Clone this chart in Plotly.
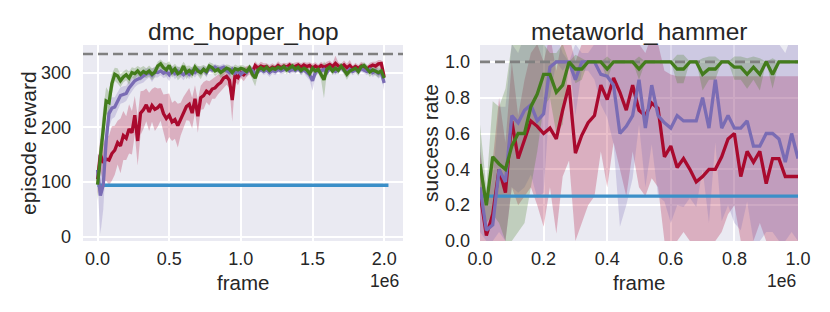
import plotly.graph_objects as go

# ---------------- data: dmc_hopper_hop ----------------
frames_hopper = [i * 20000 for i in range(101)]

hop_green = [95, 150, 205, 248, 245, 280, 297, 294, 285, 292, 296,
             290, 300, 298, 303, 297, 302, 299, 303, 297, 301,
             312, 316, 309, 305, 313, 301, 307, 298, 301, 312,
             300, 304, 299, 310, 303, 300, 306, 302, 312, 309,
             303, 306, 300, 304, 308, 306, 300, 307, 305, 308,
             306, 302, 309, 297, 290, 305, 309, 305, 310, 304,
             308, 306, 310, 307, 311, 305, 309, 312, 306, 310,
             304, 308, 305, 298, 308, 303, 306, 296, 287, 306,
             310, 303, 308, 304, 312, 305, 297, 303, 306, 308,
             302, 311, 313, 307, 301, 305, 303, 300, 303, 290]
hop_green_sd = [30, 35, 30, 25, 20, 18, 12, 14, 12, 10, 10,
                12, 10, 10, 9, 12, 10, 9, 10, 11, 9,
                8, 8, 10, 12, 8, 10, 9, 12, 10, 8,
                12, 9, 10, 8, 9, 12, 8, 9, 7, 8,
                9, 8, 10, 8, 7, 8, 10, 8, 7, 6,
                7, 8, 6, 10, 15, 8, 6, 7, 6, 7,
                6, 7, 6, 5, 6, 8, 6, 5, 7, 6,
                8, 6, 7, 9, 7, 8, 7, 10, 34, 7,
                6, 8, 6, 7, 6, 8, 10, 7, 6, 7,
                8, 6, 6, 7, 9, 7, 8, 9, 7, 10]

hop_purple = [122, 75, 95, 175, 225, 235, 237, 248, 258, 260, 262,
              272, 278, 285, 288, 290, 294, 297, 300, 295, 301,
              300, 303, 299, 302, 296, 304, 298, 303, 300, 296,
              302, 297, 303, 300, 305, 301, 306, 300, 308, 305,
              310, 306, 308, 310, 304, 300, 306, 299, 303, 297,
              302, 300, 306, 304, 298, 303, 306, 302, 305, 300,
              304, 302, 306, 303, 305, 308, 303, 306, 304, 307,
              302, 305, 300, 296, 285, 300, 305, 303, 306, 300,
              308, 305, 302, 306, 310, 304, 300, 306, 302, 305,
              303, 307, 305, 302, 306, 300, 303, 298, 300, 281]
hop_purple_sd = [30, 70, 45, 30, 25, 20, 18, 16, 15, 15, 14,
                 14, 12, 12, 10, 10, 12, 10, 9, 12, 10,
                 9, 8, 9, 10, 12, 8, 10, 9, 8, 10,
                 8, 9, 8, 9, 7, 8, 7, 9, 6, 7,
                 6, 7, 6, 6, 8, 10, 7, 9, 8, 8,
                 7, 8, 6, 7, 8, 6, 7, 6, 7, 8,
                 6, 7, 6, 6, 7, 5, 6, 7, 6, 5,
                 7, 6, 8, 10, 18, 8, 6, 7, 6, 8,
                 6, 7, 6, 7, 5, 7, 9, 6, 7, 6,
                 7, 6, 6, 7, 6, 8, 7, 9, 8, 14]

hop_red = [105, 150, 135, 142, 140, 152, 158, 172, 166, 185, 180,
           197, 190, 222, 175, 226, 232, 241, 228, 240, 233,
           236, 242, 225, 216, 222, 210, 214, 203, 215, 228,
           238, 242, 226, 252, 220, 254, 258, 266, 262, 270,
           272, 278, 282, 290, 293, 286, 250, 296, 291, 300,
           296, 302, 305, 300, 313, 308, 312, 310, 311, 306,
           310, 308, 313, 309, 312, 310, 314, 309, 312, 314,
           310, 314, 311, 313, 308, 312, 309, 313, 310, 312,
           315, 311, 317, 312, 310, 314, 309, 313, 307, 311,
           308, 312, 309, 306, 311, 314, 312, 316, 317, 292]
hop_red_sd = [30, 30, 35, 40, 45, 50, 45, 40, 50, 45, 40,
              45, 40, 35, 45, 40, 35, 30, 35, 30, 40,
              35, 30, 35, 45, 40, 35, 35, 40, 30, 28,
              25, 30, 28, 25, 30, 22, 25, 20, 22, 18,
              20, 18, 15, 18, 15, 14, 40, 12, 14, 10,
              12, 10, 8, 10, 8, 7, 8, 7, 6, 8,
              7, 6, 8, 7, 6, 7, 6, 8, 7, 6,
              7, 6, 7, 6, 8, 7, 6, 7, 6, 8,
              7, 6, 14, 7, 6, 8, 7, 10, 6, 7,
              6, 8, 7, 6, 7, 6, 8, 7, 6, 10]

hop_blue_x = [0, 2030000]
hop_blue_y = [94, 94]
hop_optimal = 334
hop_xlim = [-101500, 2131500]
hop_ylim = [-8, 350.5]

hop_xticks = [0, 500000, 1000000, 1500000, 2000000]
hop_xtext = ["0.0", "0.5", "1.0", "1.5", "2.0"]
hop_yticks = [0, 100, 200, 300]
hop_ytext = ["0", "100", "200", "300"]

# ---------------- data: metaworld_hammer ----------------
frames_hammer = [i * 20000 for i in range(51)]

ham_green = [0.43, 0.20, 0.47, 0.43, 0.40, 0.53, 0.60, 0.60, 0.75, 0.82, 0.93,
             0.93, 0.83, 0.87, 1.0, 0.96, 0.96, 1.0, 1.0, 1.0, 0.96,
             1.0, 1.0, 1.0, 1.0, 0.96, 1.0, 1.0, 1.0, 1.0, 1.0,
             0.96, 0.96, 1.0, 1.0, 0.93, 0.96, 0.96, 1.0, 1.0, 0.97,
             0.97, 0.93, 0.97, 0.93, 1.0, 0.93, 1.0, 1.0, 1.0, 1.0]
ham_green_lo = [0.2, 0.1, 0.15, 0.1, 0.0, 0.0, 0.05, 0.1, 0.3, 0.5, 0.75,
                0.8, 0.6, 0.65, 1.0, 0.88, 0.9, 1.0, 1.0, 1.0, 0.9,
                1.0, 1.0, 1.0, 1.0, 0.9, 1.0, 1.0, 1.0, 1.0, 1.0,
                0.88, 0.88, 1.0, 1.0, 0.84, 0.9, 0.9, 1.0, 1.0, 0.9,
                0.9, 0.85, 0.9, 0.84, 1.0, 0.85, 1.0, 1.0, 1.0, 1.0]
ham_green_hi = [0.65, 0.3, 0.78, 0.75, 0.85, 1.1, 1.12, 1.1, 1.15, 1.12, 1.1,
                1.05, 1.05, 1.1, 1.0, 1.04, 1.02, 1.0, 1.0, 1.0, 1.03,
                1.0, 1.0, 1.0, 1.0, 1.03, 1.0, 1.0, 1.0, 1.0, 1.0,
                1.04, 1.04, 1.0, 1.0, 1.02, 1.03, 1.03, 1.0, 1.0, 1.03,
                1.03, 1.02, 1.03, 1.02, 1.0, 1.02, 1.0, 1.0, 1.0, 1.0]

ham_purple = [0.30, 0.06, 0.09, 0.40, 0.33, 0.70, 0.66, 0.73, 0.76, 0.67, 0.71,
              0.97, 1.0, 1.0, 1.0, 0.90, 1.0, 1.0, 1.0, 0.93, 0.92,
              0.87, 0.60, 0.64, 0.70, 0.90, 0.63, 0.87, 0.70, 0.66, 0.63,
              0.70, 0.67, 0.67, 0.67, 0.80, 0.63, 0.90, 0.63, 0.70, 0.63,
              0.63, 0.67, 0.53, 0.53, 0.60, 0.60, 0.57, 0.44, 0.60, 0.46]
ham_purple_lo = [0.05, 0.0, 0.0, 0.05, 0.0, 0.3, 0.27, 0.3, 0.37, 0.24, 0.27,
                 0.8, 1.0, 0.95, 1.0, 0.7, 0.95, 0.95, 0.9, 0.76, 0.69,
                 0.54, 0.08, 0.2, 0.35, 0.65, 0.3, 0.54, 0.25, 0.22, 0.1,
                 0.2, 0.19, 0.24, 0.19, 0.4, 0.1, 0.55, 0.11, 0.2, 0.1,
                 0.06, 0.22, 0.0, 0.0, 0.05, 0.05, 0.0, 0.0, 0.05, 0.0]
ham_purple_hi = [0.55, 0.2, 0.35, 0.75, 0.75, 1.1, 1.05, 1.15, 1.15, 1.1, 1.15,
                 1.15, 1.15, 1.05, 1.0, 1.1, 1.05, 1.05, 1.1, 1.1, 1.15,
                 1.2, 1.1, 1.15, 1.15, 1.2, 1.1, 1.2, 1.15, 1.1, 1.15,
                 1.2, 1.15, 1.1, 1.15, 1.2, 1.1, 1.25, 1.15, 1.1, 1.15,
                 1.2, 1.1, 1.15, 1.1, 1.2, 1.15, 1.1, 1.05, 1.15, 1.1]

ham_red = [0.27, 0.03, 0.15, 0.40, 0.27, 0.67, 0.46, 0.57, 0.67, 0.64, 0.60,
           0.63, 0.57, 0.73, 0.87, 0.49, 0.59, 0.66, 0.70, 0.87, 0.79,
           0.91, 0.83, 0.73, 0.87, 0.73, 0.70, 0.77, 0.74, 0.47, 0.53,
           0.41, 0.46, 0.40, 0.33, 0.36, 0.40, 0.40, 0.47, 0.57, 0.60,
           0.36, 0.50, 0.44, 0.50, 0.32, 0.46, 0.46, 0.36, 0.36, 0.36]
ham_red_lo = [0.0, 0.0, 0.0, 0.0, 0.0, 0.3, 0.2, 0.25, 0.3, 0.2, 0.08,
              0.3, 0.04, 0.36, 0.45, 0.0, 0.1, 0.2, 0.25, 0.5, 0.3,
              0.55, 0.4, 0.25, 0.5, 0.3, 0.25, 0.35, 0.3, 0.0, 0.0,
              0.0, 0.05, 0.0, 0.0, 0.0, 0.0, 0.0, 0.05, 0.15, 0.2,
              0.0, 0.0, 0.0, 0.1, 0.0, 0.0, 0.0, 0.0, 0.0, 0.0]
ham_red_hi = [0.5, 0.25, 0.45, 0.8, 0.55, 1.0, 0.7, 0.9, 1.05, 1.1, 1.0,
              1.15, 0.95, 1.15, 1.15, 1.0, 1.1, 1.15, 1.1, 1.2, 1.15,
              1.2, 1.15, 1.1, 1.2, 1.1, 1.05, 1.15, 1.1, 0.95, 0.93,
              0.92, 0.92, 0.92, 0.92, 0.92, 0.92, 0.92, 0.92, 0.92, 0.92,
              0.92, 0.92, 0.92, 0.92, 0.92, 0.92, 0.92, 0.92, 0.92, 0.92]

ham_blue_x = [0, 1000000]
ham_blue_y = [0.25, 0.25]
ham_optimal = 1.0
ham_xlim = [0, 1000000]
ham_ylim = [0, 1.094]

ham_xticks = [0, 200000, 400000, 600000, 800000, 1000000]
ham_xtext = ["0.0", "0.2", "0.4", "0.6", "0.8", "1.0"]
ham_yticks = [0.0, 0.2, 0.4, 0.6, 0.8, 1.0]
ham_ytext = ["0.0", "0.2", "0.4", "0.6", "0.8", "1.0"]

# ---------------- style ----------------
# the page body has an 8px default margin; figure coords = screen coords - 8
OFF = 8
W, H = 830 - OFF, 312 - OFF
FONT = "Liberation Sans, Arial, sans-serif"
TXT = "#262626"
RED = "#a90a2e"
PURPLE = "#7a6cb4"
GREEN = "#437c1c"
BLUE = "#3b8fc8"
FILL = {RED: "rgba(176,17,60,0.27)", PURPLE: "rgba(122,108,180,0.26)", GREEN: "rgba(68,125,31,0.25)"}
LW = 3.3

fig = go.Figure()


def add_band(x, lo, hi, color, xa, ya):
    fig.add_trace(go.Scatter(x=x, y=lo, mode="lines", line=dict(width=0, color=color),
                             hoverinfo="skip", showlegend=False, xaxis=xa, yaxis=ya))
    fig.add_trace(go.Scatter(x=x, y=hi, mode="lines", line=dict(width=0, color=color),
                             fill="tonexty", fillcolor=FILL[color],
                             hoverinfo="skip", showlegend=False, xaxis=xa, yaxis=ya))


def add_line(x, y, color, xa, ya, width=LW, dash=None):
    fig.add_trace(go.Scatter(x=x, y=y, mode="lines", line=dict(width=width, color=color, dash=dash),
                             showlegend=False, xaxis=xa, yaxis=ya))


panels = [
    dict(xa="x", ya="y", frames=frames_hopper, xlim=hop_xlim, opt=hop_optimal,
         bx=hop_blue_x, by=hop_blue_y,
         series=[(hop_red, [m - s for m, s in zip(hop_red, hop_red_sd)],
                  [m + s for m, s in zip(hop_red, hop_red_sd)], RED),
                 (hop_purple, [m - s for m, s in zip(hop_purple, hop_purple_sd)],
                  [m + s for m, s in zip(hop_purple, hop_purple_sd)], PURPLE),
                 (hop_green, [m - s for m, s in zip(hop_green, hop_green_sd)],
                  [m + s for m, s in zip(hop_green, hop_green_sd)], GREEN)]),
    dict(xa="x2", ya="y2", frames=frames_hammer, xlim=ham_xlim, opt=ham_optimal,
         bx=ham_blue_x, by=ham_blue_y,
         series=[(ham_red, ham_red_lo, ham_red_hi, RED),
                 (ham_purple, ham_purple_lo, ham_purple_hi, PURPLE),
                 (ham_green, ham_green_lo, ham_green_hi, GREEN)]),
]

for p in panels:
    for mean, lo, hi, col in p["series"]:
        add_band(p["frames"], lo, hi, col, p["xa"], p["ya"])
    # optimal score: dashed line across the whole axis, under the curves
    add_line(p["xlim"], [p["opt"], p["opt"]], "#808080", p["xa"], p["ya"], width=2.6, dash="10px,5px")
    add_line(p["bx"], p["by"], BLUE, p["xa"], p["ya"])
    for mean, lo, hi, col in p["series"]:
        add_line(p["frames"], mean, col, p["xa"], p["ya"])


def px(x):
    return (x - OFF) / W


def py(y):
    return 1 - (y - OFF) / H


L0, L1 = px(83), px(403)
R0, R1 = px(480), px(798)
B, T = py(241), py(45)

axis_common = dict(showgrid=True, gridcolor="white", gridwidth=1.5, zeroline=False,
                   showline=False, ticks="", automargin=False,
                   tickfont=dict(size=18, color=TXT, family=FONT))

fig.update_layout(
    width=W, height=H,
    margin=dict(l=0, r=0, t=0, b=0, autoexpand=False),
    paper_bgcolor="white",
    plot_bgcolor="#EAEAF2",
    font=dict(family=FONT, color=TXT),
    xaxis=dict(domain=[L0, L1], range=hop_xlim, tickvals=hop_xticks, ticktext=hop_xtext,
               anchor="y", ticklabelstandoff=5, **axis_common),
    yaxis=dict(domain=[B, T], range=hop_ylim, tickvals=hop_yticks, ticktext=hop_ytext,
               anchor="x", ticklabelstandoff=11, **axis_common),
    xaxis2=dict(domain=[R0, R1], range=ham_xlim, tickvals=ham_xticks, ticktext=ham_xtext,
                anchor="y2", ticklabelstandoff=5, **axis_common),
    yaxis2=dict(domain=[B, T], range=ham_ylim, tickvals=ham_yticks, ticktext=ham_ytext,
                anchor="x2", ticklabelstandoff=9, **axis_common),
)

ann = []
def text(x, y, s, size, **kw):
    ann.append(dict(x=px(x), y=py(y), xref="paper", yref="paper", text=s, showarrow=False,
                    font=dict(size=size, color=TXT, family=FONT), **kw))

text((83 + 403) / 2, 31, "dmc_hopper_hop", 24.5, xanchor="center", yanchor="middle")
text((480 + 798) / 2, 31, "metaworld_hammer", 24.5, xanchor="center", yanchor="middle")
text((83 + 403) / 2, 282, "frame", 20.5, xanchor="center", yanchor="middle")
text((480 + 798) / 2, 282, "frame", 20.5, xanchor="center", yanchor="middle")
text(401, 281, "1e6", 17.5, xanchor="right", yanchor="middle")
text(798, 281, "1e6", 17.5, xanchor="right", yanchor="middle")
text(28, 143, "episode reward", 21, xanchor="center", yanchor="middle", textangle=-90)
text(430, 143, "success rate", 21, xanchor="center", yanchor="middle", textangle=-90)
fig.update_layout(annotations=ann)

fig.write_html("out.html")
